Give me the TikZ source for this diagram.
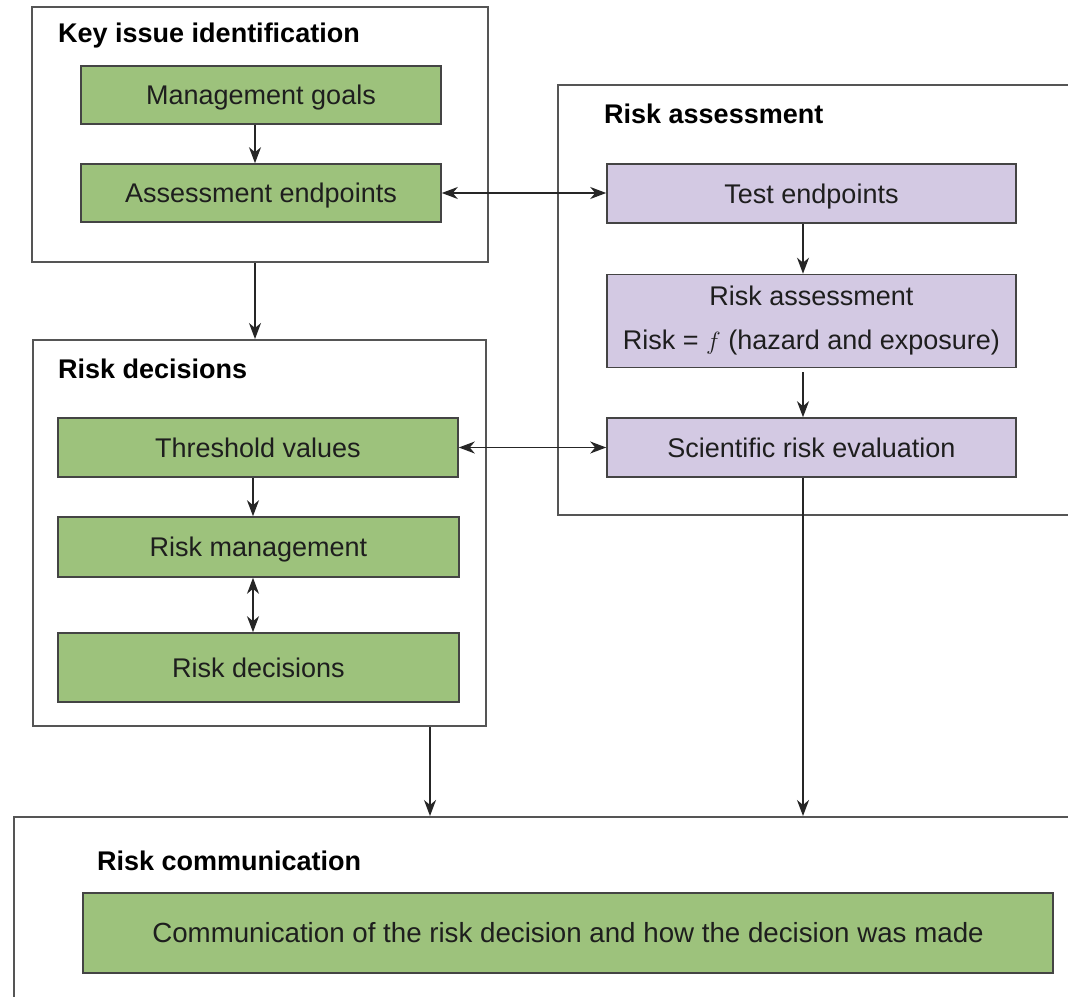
\documentclass[tikz,border=0pt]{standalone}
\usepackage{fontspec}
\setmainfont{Liberation Sans}
\usetikzlibrary{arrows.meta}
\definecolor{boxgreen}{RGB}{157,194,124}
\definecolor{boxpurple}{RGB}{211,201,227}
\definecolor{edgegray}{RGB}{85,85,85}
\definecolor{txt}{RGB}{30,30,30}
\tikzset{
  outerbox/.style={draw=edgegray, line width=2pt, fill=white, inner sep=0pt},
  greenbox/.style={draw=edgegray!80!black, line width=1.6pt, fill=boxgreen, inner sep=0pt, text=txt,
    font=\fontsize{27}{40}\selectfont, align=center, text height=21pt, text depth=1.6pt},
  purplebox/.style={draw=edgegray!80!black, line width=1.6pt, fill=boxpurple, inner sep=0pt, text=txt,
    font=\fontsize{27}{45}\selectfont, align=center},
  purpleone/.style={purplebox, text height=21pt, text depth=1.6pt},
  titletext/.style={anchor=base west, inner sep=0pt, text=black, font=\fontsize{27}{32}\selectfont\bfseries},
  arr/.style={draw=black!85, line width=1.4pt, -{Stealth[length=16pt,width=12pt,inset=5pt]}},
  dblarr/.style={draw=black!85, line width=1.4pt, {Stealth[length=16pt,width=12pt,inset=5pt]}-{Stealth[length=16pt,width=12pt,inset=5pt]}}
}
\begin{document}
\begin{tikzpicture}[x=1pt,y=-1pt]
\useasboundingbox (0,0) rectangle (1068,996);
\clip (0,0) rectangle (1068,996);
\fill[white] (0,0) rectangle (1068,996);

% outer boxes
\node[outerbox, minimum width=456pt, minimum height=255pt] (keybox) at (260,134.5) {};
\node[outerbox, minimum width=453pt, minimum height=386pt] (rdbox) at (259.5,533) {};
\node[outerbox, minimum width=532pt, minimum height=430pt] (rabox) at (824,300) {};
\node[outerbox, minimum width=1076pt, minimum height=193pt] (combox) at (552,913.5) {};

% titles
\node[titletext] (kititle) at (58,42.5) {Key issue identification};
\node[titletext] (rdtitle) at (58,378) {Risk decisions};
\node[titletext] (ratitle) at (604,123) {Risk assessment};
\node[titletext] (comtitle) at (97,870) {Risk communication};

% key issue
\node[greenbox, minimum width=360pt, minimum height=58pt] (mg) at (261,95) {Management goals};
\node[greenbox, minimum width=360pt, minimum height=58pt] (ae) at (261,193) {Assessment endpoints};

% risk decisions
\node[greenbox, minimum width=400pt, minimum height=59pt] (tv) at (258,447.5) {Threshold values};
\node[greenbox, minimum width=401pt, minimum height=60pt] (rm) at (258.5,547) {Risk management};
\node[greenbox, minimum width=401pt, minimum height=69pt] (rdi) at (258.5,667.5) {Risk decisions};

% risk assessment
\node[purpleone, minimum width=409pt, minimum height=59pt] (te) at (811.5,193.5) {Test endpoints};
\node[purplebox, minimum width=409pt, minimum height=93pt] (rai) at (811.5,321) {Risk assessment\\[-1pt]Risk = $f$ (hazard and exposure)};
\node[purpleone, minimum width=409pt, minimum height=59pt] (sre) at (811.5,447.5) {Scientific risk evaluation};

% communication
\node[greenbox, minimum width=970pt, minimum height=80pt, font=\fontsize{27.7}{40}\selectfont] (comg) at (568,933) {Communication of the risk decision and how the decision was made};

% connector columns
\coordinate (ax) at (803,0);
\coordinate (bx) at (430,0);
\coordinate (cx) at (255,0);
\coordinate (dx) at (253,0);

\draw[arr] (mg.south -| cx) -- (ae.north -| cx);
\draw[arr] (keybox.south -| cx) -- (rdbox.north -| cx);
\draw[arr] (tv.south -| dx) -- (rm.north -| dx);
\draw[dblarr] (rm.south -| dx) -- (rdi.north -| dx);
\draw[dblarr] (ae.east) -- (te.west |- ae.east);
\draw[dblarr] (tv.east) -- (sre.west |- tv.east);
\draw[arr] (te.south -| ax) -- (rai.north -| ax);
\draw[arr, shorten <=4pt] (rai.south -| ax) -- (sre.north -| ax);
\draw[arr] (sre.south -| ax) -- (combox.north -| ax);
\draw[arr] (rdbox.south -| bx) -- (combox.north -| bx);
\end{tikzpicture}
\end{document}
